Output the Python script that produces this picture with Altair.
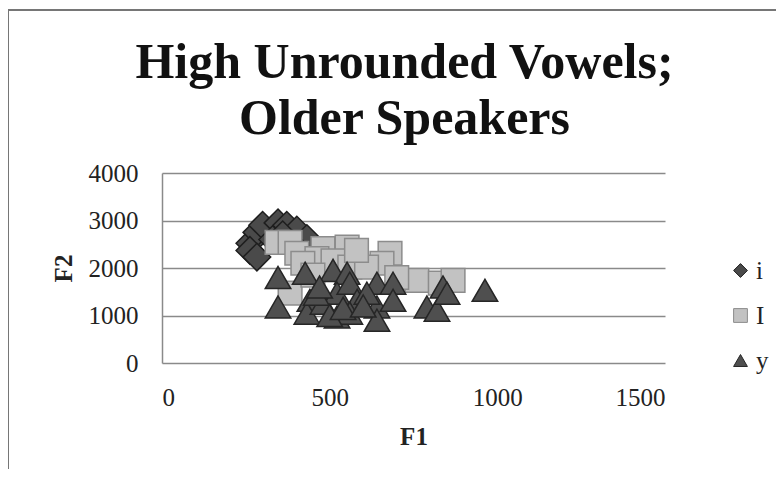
import altair as alt
import pandas as pd

# series: i (diamond)
i_f1 = [262, 283, 300, 346, 372, 402, 432, 262, 283, 330, 360, 390]
i_f2 = [2520, 2750, 2900, 2950, 2900, 2800, 2620, 2370, 2230, 2600, 2700, 2500]

# series: I (square)
I_f1 = [343, 382, 402, 480, 552, 462, 510, 560, 680, 656, 610, 382, 760, 830, 868, 580, 420, 450, 700]
I_f2 = [2540, 2540, 2310, 2410, 2440, 2200, 2150, 2020, 2310, 2100, 2020, 1470, 1740, 1680, 1740, 2370, 2100, 1850, 1800]

# series: y (triangle)
y_f1 = [346, 346, 427, 510, 552, 441, 432, 480, 522, 560, 582, 522, 560, 641, 689, 641, 641, 689, 611, 790, 820, 838, 850, 963, 500, 540, 460, 600, 470]
y_f2 = [1800, 1180, 1890, 1950, 1890, 1320, 1050, 1260, 1470, 1680, 1320, 970, 1050, 1680, 1680, 1180, 900, 1320, 1470, 1180, 1110, 1600, 1470, 1530, 1000, 1150, 1450, 1200, 1600]

series = ["i", "I", "y"]
shapes = ["diamond", "square", "triangle-up"]
fills = ["#4a4a4a", "#c2c2c2", "#4f4f4f"]
strokes = ["#1e1e1e", "#8c8c8c", "#262626"]
sizes = [760, 560, 650]

rows = []
for name, f1s, f2s in zip(series, [i_f1, I_f1, y_f1], [i_f2, I_f2, y_f2]):
    for a, b in zip(f1s, f2s):
        rows.append({"F1": a, "F2": b, "vowel": name})
df = pd.DataFrame(rows)

serif = "Liberation Serif"

x_enc = alt.X("F1:Q", scale=alt.Scale(domain=[0, 1500], nice=False),
              axis=alt.Axis(values=[0, 500, 1000, 1500], format="d", grid=False, ticks=False, domain=False,
                            labelPadding=22, labelFontSize=25, labelFont=serif, labelColor="#222",
                            title="F1", titleFont=serif, titleFontSize=25, titleFontWeight="bold",
                            titleColor="#222", titlePadding=14))
y_enc = alt.Y("F2:Q", scale=alt.Scale(domain=[0, 4000], nice=False),
              axis=alt.Axis(values=[0, 1000, 2000, 3000, 4000], format="d", grid=True, gridColor="#8a8a8a",
                            gridWidth=1.5, ticks=False, domain=True, domainColor="#8a8a8a",
                            domainWidth=1.5, labelPadding=24, labelFontSize=25, labelFont=serif,
                            labelColor="#222", title="F2", titleFont=serif, titleFontSize=25,
                            titleFontWeight="bold", titleColor="#222", titlePadding=12))
legend = alt.Legend(title=None, orient="none", legendX=566, legendY=85,
                    symbolSize=190, labelFont=serif, labelFontSize=25,
                    labelColor="#222", rowPadding=19, labelOffset=3, symbolStrokeWidth=1)
shape_enc = alt.Shape("vowel:N", scale=alt.Scale(domain=series, range=shapes), legend=legend)
fill_enc = alt.Fill("vowel:N", scale=alt.Scale(domain=series, range=fills), legend=legend)
stroke_enc = alt.Stroke("vowel:N", scale=alt.Scale(domain=series, range=strokes), legend=legend)

layers = []
for name, sz in zip(series, sizes):
    layers.append(
        alt.Chart(df).transform_filter(alt.datum.vowel == name)
        .mark_point(filled=True, opacity=1, strokeWidth=1.5, size=sz)
        .encode(x=x_enc, y=y_enc, shape=shape_enc, fill=fill_enc, stroke=stroke_enc)
    )

frame = alt.Chart(df).mark_rect(fill=None, stroke="#777", strokeWidth=1.5).encode(
    x=alt.value(-154), x2=alt.value(630), y=alt.value(-163), y2=alt.value(320)
)

chart = alt.layer(frame, *layers).properties(
    width=503, height=190,
    autosize=alt.AutoSizeParams(type="none"),
    padding={"left": 154, "top": 165, "right": 111, "bottom": 106},
    title=alt.TitleParams(["High Unrounded Vowels;", "Older Speakers"], font=serif, fontSize=50,
                          fontWeight="bold", color="#111", lineHeight=56, anchor="middle",
                          frame="group", offset=-135, dx=-9),
).configure_view(stroke=None)

chart.save("out.html", embed_options={"renderer": "svg", "actions": False})
